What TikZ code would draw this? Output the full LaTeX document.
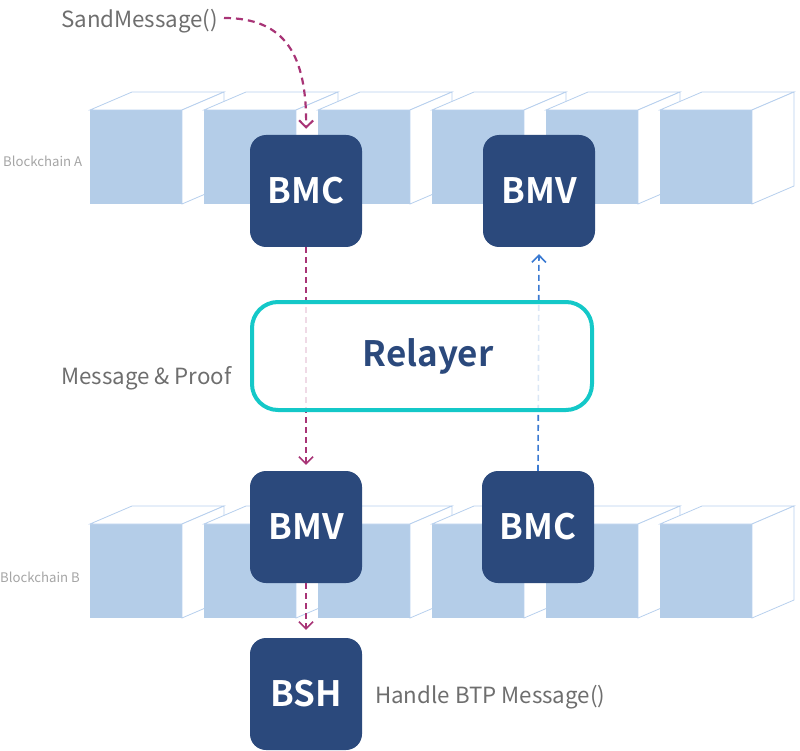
\documentclass[tikz,border=0pt]{standalone}
\usepackage{fontspec}
\setmainfont{Noto Sans CJK KR}
\newfontfamily\boxfont{Noto Sans CJK KR}[BoldFont={Noto Sans CJK KR Bold}]
\usetikzlibrary{arrows.meta}
\definecolor{cubefront}{RGB}{180,205,232}
\definecolor{cubeline}{RGB}{184,208,238}
\definecolor{navy}{RGB}{43,73,124}
\definecolor{relcyan}{RGB}{20,200,200}
\definecolor{magarr}{RGB}{168,52,118}
\definecolor{bluearr}{RGB}{58,122,210}
\definecolor{labgray}{RGB}{110,110,110}
\definecolor{chaingray}{RGB}{165,165,165}
\newcommand{\mycube}[2]{%
  \fill[cubefront] (#1,#2) rectangle ++(92,94);
  \draw[cubeline,fill=white,line width=0.8] (#1,#2) -- ++(42,-18) -- ++(92,0) -- ++(-42,18) -- cycle;
  \draw[cubeline,fill=white,line width=0.8] (#1+92,#2) -- ++(42,-18) -- ++(0,94) -- ++(-42,18) -- cycle;
}
\tikzset{
  chainbox/.style={draw=none,fill=navy,rounded corners=16pt,minimum width=112pt,minimum height=112pt,inner sep=0pt,text=white,font=\boxfont\bfseries\fontsize{35}{38}\selectfont},
  magline/.style={draw=magarr,line width=1.6pt,dash pattern=on 6pt off 4pt,-{Straight Barb[length=7pt,width=14pt,line width=1.6pt]}},
  blueline/.style={draw=bluearr,line width=1.6pt,dash pattern=on 6pt off 4pt,-{Straight Barb[length=7pt,width=14pt,line width=1.6pt]}},
  biglabel/.style={text=labgray,font=\fontsize{22.3}{26}\selectfont,inner sep=0pt,anchor=base west},
  chainlabel/.style={text=chaingray,font=\fontsize{13.2}{15}\selectfont,inner sep=0pt,anchor=base west},
}
\begin{document}
\begin{tikzpicture}[x=1pt,y=-1pt]
\useasboundingbox (0,0) rectangle (800,751);
% cubes
\foreach \xx in {90,204,318,432,546,660}{\mycube{\xx}{110}}
\foreach \xx in {90,204,318,432,546,660}{\mycube{\xx}{524}}
% boxes
\node[chainbox] (bmcA) at (306,191) {BMC};
\node[chainbox] (bmvA) at (539,191) {BMV};
\node[chainbox] (bmvB) at (306,527) {BMV};
\node[chainbox] (bmcB) at (538,527) {BMC};
\node[chainbox] (bsh) at (306,694) {BSH};
% labels
\node[biglabel] (send) at (61,28) {SandMessage()};
\node[biglabel] (mp) at (61,384) {Message \& Proof};
\node[biglabel] (hb) at (375,703) {Handle BTP Message()};
\node[chainlabel] (chA) at (3,167) {Blockchain A};
\node[chainlabel] (chB) at (0,582) {Blockchain B};
\coordinate (sendend) at (224,18);
% arrows
\draw[magline,line width=2.2pt,dash pattern=on 7pt off 5pt,-{Straight Barb[length=7pt,width=14pt,line width=2pt]},shorten >=6pt]
  (sendend) .. controls (285,18) and (307,55) .. (bmcA.north);
\draw[magline,shorten >=6pt] (bmcA.south) -- (bmvB.north);
\draw[blueline,shorten >=7pt] (bmcB.north) -- (bmvA.south);
\draw[magline,shorten >=8pt] (bmvB.south) -- (bsh.north);
% relayer
\node[draw=relcyan,line width=4pt,fill=white,fill opacity=0.82,text opacity=1,draw opacity=1,rounded corners=26pt,minimum width=340pt,minimum height=108pt,text=navy,font=\boxfont\bfseries\fontsize{35}{40}\selectfont] (relayer) at (422,356) {\hspace*{12pt}Relayer};
\end{tikzpicture}
\end{document}
